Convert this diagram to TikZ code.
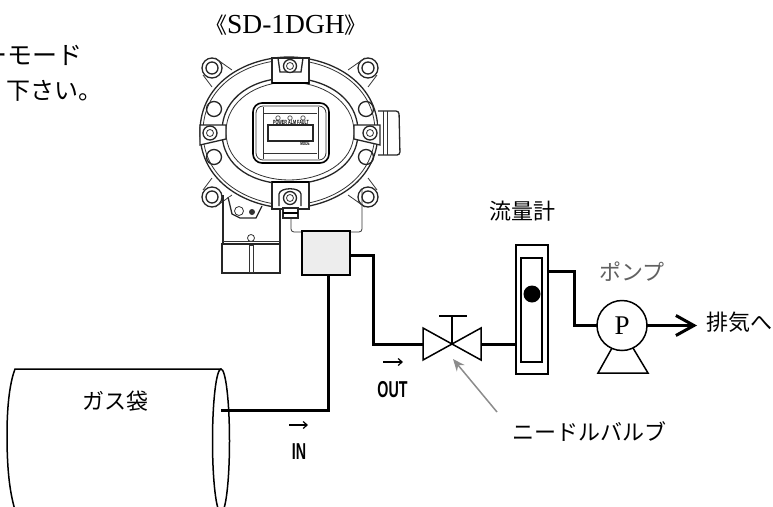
\documentclass[tikz,border=0pt]{standalone}
\usepackage{fontspec}
\setmainfont{Liberation Serif}
\newfontfamily\jp{Noto Sans CJK JP}
\newfontfamily\cond{Liberation Sans}[FakeStretch=0.62]
\usetikzlibrary{arrows.meta}
\tikzset{
 pipe/.style={line width=3pt,line join=miter},
 dev/.style={line width=0.8pt,draw=black!80},
 devb/.style={line width=1.3pt,draw=black!85},
 sym/.style={line width=1.5pt,line join=miter},
 jptext/.style={font=\jp\fontsize{22}{22}\selectfont,inner sep=0pt},
 tag/.style={font=\cond\bfseries\fontsize{23}{23}\selectfont,inner sep=0pt},
}
\begin{document}
\begin{tikzpicture}[x=1pt,y=-1pt]
\useasboundingbox (0,0) rectangle (773,506);
\clip (0,0) rectangle (773,506);
% cut-off note
\node[jptext,anchor=east,font=\jp\fontsize{25}{25}\selectfont] (note1) at (83,55) {ーモード};
\node[jptext,anchor=east,font=\jp\fontsize{24}{24}\selectfont] (note2) at (103,91) {下さい。};
\node[inner sep=0pt,font=\fontsize{27.5}{27.5}\selectfont] (title) at (286,25) {{\jp\fontsize{22}{22}\selectfont 《}SD-1DGH{\jp\fontsize{22}{22}\selectfont 》}};
% device ears
\foreach \ex/\ey in {212/68,368/68,212/197,368/197}{
 \draw[devb,fill=white] (\ex,\ey) circle (10);
 \draw[devb] (\ex,\ey) circle (6);
}
\draw[dev] (203,75) -- (212,87) (215,58) -- (232,70);
\draw[dev] (377,75) -- (368,87) (365,58) -- (348,70);
\draw[dev] (203,190) -- (212,178) (215,207) -- (232,195);
\draw[dev] (377,190) -- (368,178) (365,207) -- (348,195);
% lower parts
\draw[devb] (223,195) -- (223,244) (280,204) -- (280,244);
\draw[dev] (223,241) -- (280,241);
\draw[devb,fill=white] (228,197) -- (232,214) -- (240,218) -- (256,218) -- (262,206);
\draw[dev] (239,211) circle (4.5);
\fill[black!80] (252,212) circle (3);
\draw[dev,fill=white] (251,238) circle (3.5);
\draw[devb] (222,244) rectangle (280,273);
\draw[dev] (249,245) rectangle (253,272);
% body
\draw[devb,fill=white] (200,132) .. controls (200,80) and (250,57) .. (289,57) .. controls (328,57) and (378,80) .. (378,132) .. controls (378,184) and (328,208) .. (289,208) .. controls (250,208) and (200,184) .. (200,132) -- cycle;
\draw[dev] (203,132) .. controls (203,82) and (252,60) .. (289,60) .. controls (326,60) and (375,82) .. (375,132) .. controls (375,182) and (326,205) .. (289,205) .. controls (252,205) and (203,182) .. (203,132) -- cycle;
\draw[devb] (222,132) .. controls (222,96) and (255,78) .. (289,78) .. controls (323,78) and (358,96) .. (358,132) .. controls (358,168) and (323,184) .. (289,184) .. controls (255,184) and (222,168) .. (222,132) -- cycle;
\draw[dev] (226,132) .. controls (226,100) and (258,82) .. (289,82) .. controls (320,82) and (354,100) .. (354,132) .. controls (354,164) and (320,180) .. (289,180) .. controls (258,180) and (226,164) .. (226,132) -- cycle;
% side holes
\foreach \hx/\hy in {214/109,214/157,366/109,366/157}{\draw[devb] (\hx,\hy) circle (7.5);}
% side box
\draw[devb,fill=white,rounded corners=3pt] (378,111) -- (399,111) -- (400,155) -- (378,155);
\draw[dev] (383,111) -- (383,155) (387,111) -- (387,155);
% side bolts
\draw[devb,fill=white] (200,125) -- (226,125) -- (226,139) -- (200,145) -- cycle;
\draw[devb,fill=white] (354,125) -- (380,125) -- (380,145) -- (354,139) -- cycle;
\foreach \bx in {210,370}{
 \draw[devb,fill=white] (\bx,133) circle (7);
 \draw[dev] (\bx,133) circle (3.5);
}
% top and bottom brackets
\draw[devb,fill=white] (272,58) -- (309,58) -- (309,83) -- (272,83) -- cycle;
\draw[line width=2pt] (272,83) -- (309,83);
\draw[devb] (278,58) -- (280,72) -- (301,72) -- (303,58);
\draw[devb,fill=white] (290,66) circle (6.5);
\draw[dev] (290,66) circle (3.5);
\draw[devb,fill=white] (272,182) rectangle (309,209);
\draw[line width=2pt] (272,182) -- (309,182);
\draw[devb] (279,206) -- (279,194) .. controls (280,187) and (300,187) .. (301,194) -- (301,206);
\draw[devb,fill=white] (290,198) circle (6.5);
\draw[dev] (290,198) circle (3.5);
\draw[devb,fill=white] (283,208) rectangle (298,218);
\draw[line width=1.5pt] (283,213) -- (298,213);
% display
\draw[line width=1.6pt,rounded corners=9pt] (253,103) rectangle (329,163);
\draw[dev,rounded corners=7pt] (256,106) rectangle (326,160);
\draw[dev] (263,107) -- (263,159) (318,107) -- (318,159) (264,113) -- (317,113) (264,153) -- (317,153);
\draw[devb] (268,125) rectangle (313,141);
\foreach \lx in {278,290,303}{\draw[dev,black!60] (\lx,118) circle (2.2);}
\node[inner sep=0pt,font=\cond\bfseries\fontsize{6}{6}\selectfont] (lamps) at (291,122) {POWER ALM FAULT};
\node[inner sep=0pt,font=\cond\bfseries\fontsize{5}{5}\selectfont] (mode) at (305,144) {MODE};
% connection
\draw[dev,rounded corners=3pt] (291,218) -- (291,232) -- (362,232) -- (362,188);
\node[draw,line width=2.3pt,fill=black!7,minimum width=48pt,minimum height=44pt,inner sep=0pt,outer sep=0pt] (box) at (326,253) {};
% gas bag
\draw[line width=1.5pt] (221,369) -- (15,369) .. controls (9,385) and (7,410) .. (7,435) .. controls (7,465) and (9,490) .. (15,510);
\draw[line width=1.5pt] (221,441) ellipse (8.5 and 72);
\coordinate (bagin) at (221,410);
\node[jptext] (bag) at (115,401) {ガス袋};
\draw[pipe] (bagin) -- (328,410) -- (328,275);
\coordinate (boxout) at (350,255);
% valve
\coordinate (vc) at (452,344);
\draw[sym] (vc) -- (423,328) -- (423,360) -- cycle;
\draw[sym] (vc) -- (481,328) -- (481,360) -- cycle;
\draw[line width=2pt] (vc) -- (452,316);
\draw[line width=2.5pt] (439,316) -- (467,316);
\draw[pipe] (boxout) -- (373,255) -- (373,344) -- (423,344);
% flow meter
\node[draw,line width=1.5pt,minimum width=32pt,minimum height=129pt,inner sep=0pt,outer sep=0pt] (fm) at (532,309.5) {};
\node[draw,line width=1.5pt,minimum width=21pt,minimum height=104pt,inner sep=0pt,outer sep=0pt] (tube) at (531.5,310) {};
\fill (532,294) circle (8.5);
\node[jptext] (fmlabel) at (522,211) {流量計};
\draw[pipe] (481,344) -- (516,344);
% pump
\node[draw,circle,line width=1.5pt,minimum size=50pt,inner sep=0pt,outer sep=0pt,font=\fontsize{27}{27}\selectfont] (pump) at (622,325.5) {P};
\draw[sym] (612,348) -- (598,373) -- (648,373) -- (633,348);
\draw[pipe] (548,271) -- (574,271) -- (574,325.5) -- (pump.west);
\coordinate (exhaustend) at (697,325.5);
\draw[pipe,-{Straight Barb[length=18pt,width=20pt,line width=3pt]}] (pump.east) -- (exhaustend);
\node[jptext,text=black!62] (pumplabel) at (632,272) {ポンプ};
\node[jptext] (exhaust) at (739,322) {排気へ};
% flow tags
\coordinate (outa) at (383,362);
\coordinate (outb) at (403,362);
\draw[line width=1.2pt,-{Straight Barb[length=4pt,width=7pt]}] (outa) -- (outb);
\node[tag] (outlabel) at (392.5,389.5) {OUT};
\coordinate (ina) at (289,425);
\coordinate (inb) at (308,425);
\draw[line width=1.2pt,-{Straight Barb[length=4pt,width=7pt]}] (ina) -- (inb);
\node[tag] (inlabel) at (299,452) {IN};
% needle valve
\node[jptext,anchor=west] (needle) at (512,432) {ニードルバルブ};
\coordinate (needletail) at (497,412);
\coordinate (needletip) at (453,359);
\draw[line width=1.5pt,draw=black!45,-{Stealth[length=12pt,width=10pt]}] (needletail) -- (needletip);
\end{tikzpicture}
\end{document}
